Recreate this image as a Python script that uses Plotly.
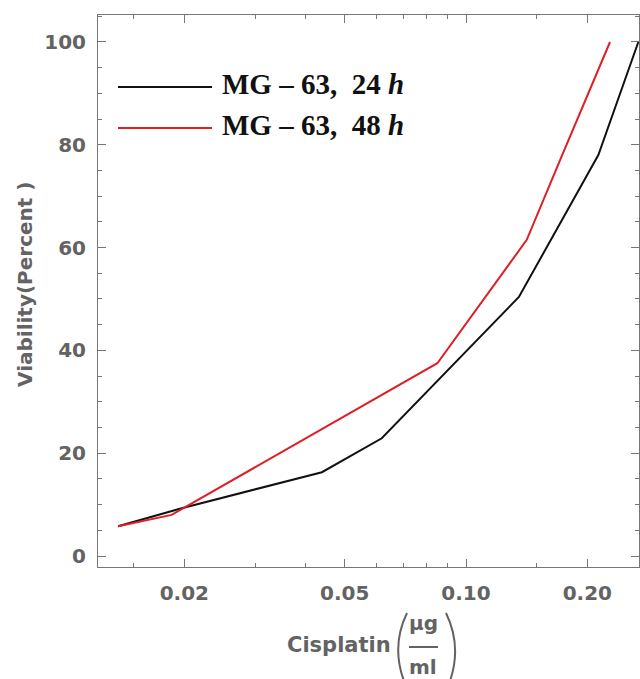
import plotly.graph_objects as go

# ---- data ----
conc_24h = [0.0137, 0.0197, 0.0439, 0.0618, 0.1353, 0.213, 0.2677]
viab_24h = [5.8, 9.3, 16.3, 22.9, 50.4, 78.0, 100.0]
conc_48h = [0.0137, 0.0186, 0.0849, 0.1415, 0.172, 0.2277]
viab_48h = [5.8, 8.0, 37.5, 61.5, 77.4, 100.0]

x_major = [0.02, 0.05, 0.10, 0.20]
x_major_text = ["0.02", "0.05", "0.10", "0.20"]
x_minor = [0.015, 0.03, 0.04, 0.06, 0.07, 0.08, 0.09, 0.15, 0.3]
y_major = [0, 20, 40, 60, 80, 100]

W, H = 640, 679
ML, MR, MT, MB = 98, 1, 15, 112
PW, PH = W - ML - MR, H - MT - MB


def px(x):
    return (x - ML) / PW


def py(y):
    return (H - MB - y) / PH


GRAY = "#636363"
FRAME = "#767676"
tfont = dict(family="DejaVu Sans", size=20, color=GRAY, weight="bold")

fig = go.Figure()
fig.add_trace(go.Scatter(x=conc_24h, y=viab_24h, mode="lines",
                         line=dict(color="#111111", width=2), showlegend=False))
fig.add_trace(go.Scatter(x=conc_48h, y=viab_48h, mode="lines",
                         line=dict(color="#dd1f26", width=2), showlegend=False))

fig.update_xaxes(type="log", range=[-1.9132, -0.5707],
                 tickmode="array", tickvals=x_major, ticktext=x_major_text,
                 ticks="inside", ticklen=8, tickwidth=1, tickcolor=FRAME,
                 showline=True, linecolor=FRAME, linewidth=1, mirror="allticks",
                 showgrid=False, zeroline=False, tickfont=tfont,
                 ticklabelstandoff=8,
                 minor=dict(tickmode="array", tickvals=x_minor, ticks="inside",
                            ticklen=4, tickcolor=FRAME, showgrid=False))
fig.update_yaxes(range=[-2.14, 105.25],
                 tickmode="array", tickvals=y_major,
                 ticks="inside", ticklen=8, tickwidth=1, tickcolor=FRAME,
                 showline=True, linecolor=FRAME, linewidth=1, mirror="allticks",
                 showgrid=False, zeroline=False, tickfont=tfont,
                 ticklabelstandoff=7,
                 minor=dict(dtick=5, ticks="inside", ticklen=4,
                            tickcolor=FRAME, showgrid=False))

shapes = []
annotations = []

# legend (manual)
leg_font = dict(family="Liberation Serif", size=29, color="#111111", weight="bold")
for ypix, col, lab in [(87, "#111111", "MG – 63,\u00a0\u00a024 <i>h</i>"),
                       (128, "#dd1f26", "MG – 63,\u00a0\u00a048 <i>h</i>")]:
    shapes.append(dict(type="line", xref="paper", yref="paper",
                       x0=px(118), x1=px(212), y0=py(ypix), y1=py(ypix),
                       line=dict(color=col, width=2)))
    annotations.append(dict(text=lab, xref="paper", yref="paper",
                            x=px(220), y=py(ypix - 3), xanchor="left", yanchor="middle",
                            showarrow=False, font=leg_font))

# y-axis title
annotations.append(dict(text="Viability(Percent\u00a0)", xref="paper", yref="paper",
                        x=px(25), y=py(284), textangle=-90, showarrow=False,
                        xanchor="center", yanchor="middle",
                        font=dict(family="DejaVu Sans", size=20, color=GRAY, weight="bold")))

# x-axis title: Cisplatin (µg / ml)
annotations.append(dict(text="Cisplatin", xref="paper", yref="paper",
                        x=px(393), y=py(645), xanchor="right", yanchor="middle",
                        showarrow=False,
                        font=dict(family="DejaVu Sans", size=21, color=GRAY, weight="bold")))
annotations.append(dict(text="µg", xref="paper", yref="paper",
                        x=px(423), y=py(623), xanchor="center", yanchor="middle",
                        showarrow=False,
                        font=dict(family="DejaVu Sans", size=20, color=GRAY, weight="bold")))
annotations.append(dict(text="ml", xref="paper", yref="paper",
                        x=px(423), y=py(667), xanchor="center", yanchor="middle",
                        showarrow=False,
                        font=dict(family="DejaVu Sans", size=20, color=GRAY, weight="bold")))
shapes.append(dict(type="line", xref="paper", yref="paper",
                   x0=px(409), x1=px(438), y0=py(647), y1=py(647),
                   line=dict(color=GRAY, width=2)))


def paren(xt, yt, xc, yc, xb, yb):
    return (f"M {px(xt)},{py(yt)} Q {px(xc)},{py(yc)} {px(xb)},{py(yb)}")


shapes.append(dict(type="path", xref="paper", yref="paper",
                   path=paren(407, 613, 391, 646, 404, 681),
                   line=dict(color=GRAY, width=2)))
shapes.append(dict(type="path", xref="paper", yref="paper",
                   path=paren(446, 613, 462, 646, 450, 681),
                   line=dict(color=GRAY, width=2)))

fig.update_layout(width=W, height=H,
                  margin=dict(l=ML, r=MR, t=MT, b=MB),
                  paper_bgcolor="white", plot_bgcolor="white",
                  showlegend=False, shapes=shapes, annotations=annotations)

fig.write_html("out.html")
